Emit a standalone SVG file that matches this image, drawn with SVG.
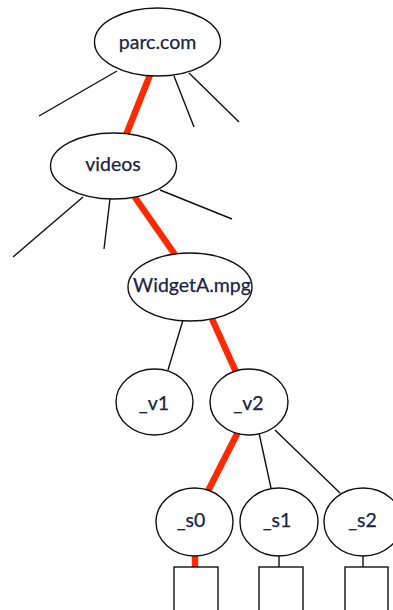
<svg xmlns="http://www.w3.org/2000/svg" width="393" height="610" viewBox="0 0 393 610">
<style>
.n{fill:#fff;stroke:#111;stroke-width:1.4}
.t{font-family:Lato,"Open Sans","Liberation Sans",sans-serif;font-size:19.5px;fill:#1b2442;stroke:#1b2442;stroke-width:0.25;text-anchor:middle}
.e{stroke:#111;stroke-width:1.4;fill:none}
.r{stroke:#ff2a00;stroke-width:6.5;fill:none}
</style>
<rect width="393" height="610" fill="#fff"/>
<g id="connectors">
<line class="e" x1="117" y1="71" x2="39" y2="116"/>
<line class="r" x1="150" y1="75" x2="126" y2="135"/>
<line class="e" x1="174" y1="76" x2="194" y2="127"/>
<line class="e" x1="189" y1="73" x2="239" y2="122"/>
<line class="e" x1="83" y1="197" x2="13" y2="257"/>
<line class="e" x1="110" y1="199" x2="104" y2="249"/>
<line class="r" x1="134" y1="196" x2="176" y2="256"/>
<line class="e" x1="160" y1="190" x2="232" y2="219"/>
<line class="e" x1="183" y1="320" x2="168" y2="370"/>
<line class="r" x1="212" y1="319" x2="236" y2="372"/>
<line class="r" x1="238" y1="432" x2="208" y2="491"/>
<line class="e" x1="259" y1="433" x2="271" y2="488"/>
<line class="e" x1="275" y1="430" x2="340" y2="493"/>
<line class="r" x1="195" y1="556" x2="195" y2="567"/>
<line class="e" x1="279" y1="556" x2="279" y2="567"/>
<line class="e" x1="363" y1="556" x2="363" y2="567"/>
</g>
<g id="parc"><ellipse class="n" cx="157.5" cy="42" rx="63" ry="34"/><text class="t" x="157.5" y="49">parc.com</text></g>
<g id="videos"><ellipse class="n" cx="113.5" cy="166" rx="63" ry="33"/><text class="t" x="113" y="171">videos</text></g>
<g id="widget"><ellipse class="n" cx="190" cy="287" rx="62" ry="34"/><text class="t" x="192" y="292">WidgetA.mpg</text></g>
<g id="v1"><ellipse class="n" cx="154.5" cy="402" rx="38.5" ry="33"/><text class="t" x="154" y="410">_v1</text></g>
<g id="v2"><ellipse class="n" cx="249" cy="402" rx="39" ry="33"/><text class="t" x="248.5" y="410">_v2</text></g>
<g id="s0"><ellipse class="n" cx="194.5" cy="522" rx="38.5" ry="34"/><text class="t" x="191" y="527">_s0</text></g>
<g id="s1"><ellipse class="n" cx="279" cy="522" rx="39" ry="34"/><text class="t" x="277" y="527">_s1</text></g>
<g id="s2"><ellipse class="n" cx="363" cy="522" rx="39" ry="34"/><text class="t" x="362.5" y="527">_s2</text></g>
<g id="b0"><rect class="n" x="174" y="567" width="44" height="50"/></g>
<g id="b1"><rect class="n" x="259" y="567" width="44" height="50"/></g>
<g id="b2"><rect class="n" x="345" y="567" width="43" height="50"/></g>
</svg>
